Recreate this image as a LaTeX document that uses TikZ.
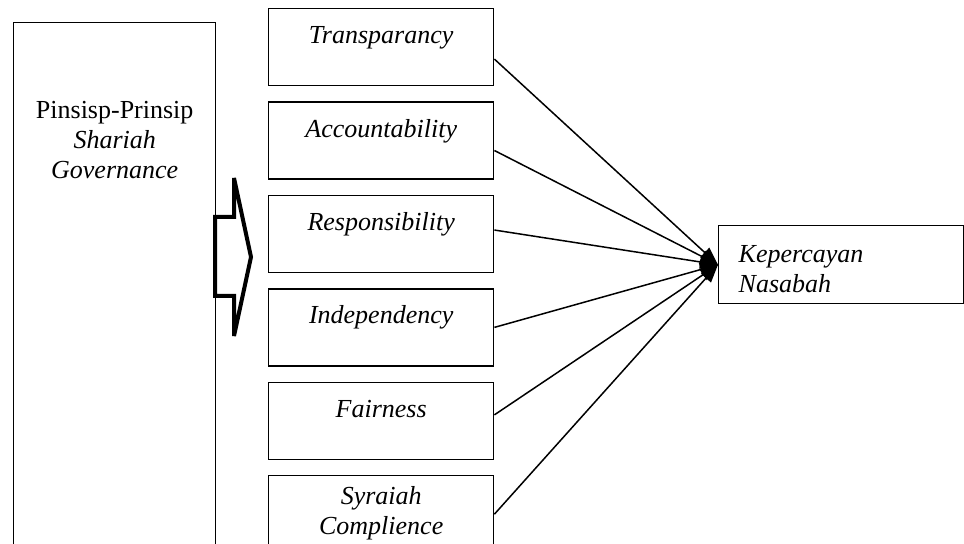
\documentclass[tikz,border=0pt]{standalone}
\usepackage{fontspec}
\setmainfont{Liberation Serif}
\usetikzlibrary{arrows.meta}
\usetikzlibrary{positioning}

\tikzset{
    box/.style={draw, line width=0.7pt, anchor=north west, inner sep=0pt, align=center},
    factor/.style={box, text width=112.5pt, text height=17.5pt, text depth=21pt,
        font=\fontsize{13}{15}\selectfont\itshape},
    link/.style={-{Triangle[length=9pt,width=6.5pt]}, line width=0.75pt},
}

\begin{document}
\begin{tikzpicture}[x=0.5pt, y=-0.5pt]
    \useasboundingbox (0,0) rectangle (964,544);

    \node[box, text width=101pt, text height=48pt, text depth=221pt,
        font=\fontsize{13}{15}\selectfont] (prinsip) at (13,22)
        {Pinsisp-Prinsip\\ \textit{Shariah}\\ \textit{Governance}};

    \node[factor] (t1) at (268,8) {Transparancy};
    \node[factor, below=7.5pt of t1] (t2) {Accountability};
    \node[factor, below=7.5pt of t2] (t3) {Responsibility};
    \node[factor, below=7.5pt of t3] (t4) {Independency};
    \node[factor, below=7.5pt of t4] (t5) {Fairness};
    \node[factor, below=7.5pt of t5, text height=14.5pt, text depth=24pt] (t6) {Syraiah\\Complience};

    \node[box, align=left, inner xsep=10pt, text width=102.5pt, text height=18.5pt, text depth=20.5pt,
        font=\fontsize{13}{15}\selectfont\itshape] (trust) at (718,225) {Kepercayan\\Nasabah};

    % big hollow arrow out of the left box
    \draw[line width=2pt, miter limit=5] (215,217) -- (234,217) -- (234,178) -- (251,257)
        -- (234,336) -- (234,296) -- (215,296) -- cycle;

    \foreach \src/\ang in {t1/-6, t2/-5, t3/2, t4/0, t5/3, t6/0}
        \draw[link] (\src.\ang) -- (trust.west);
\end{tikzpicture}
\end{document}
